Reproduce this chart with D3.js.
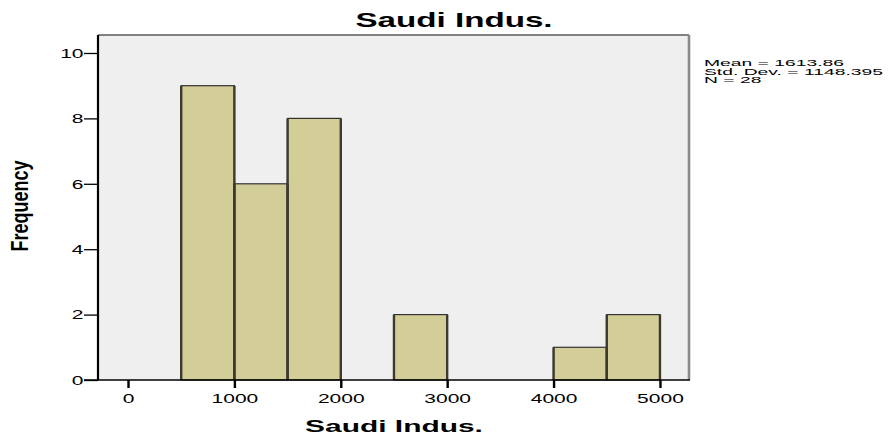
<!DOCTYPE html>
<html>
<head>
<meta charset="utf-8">
<script src="https://cdn.jsdelivr.net/npm/d3@7/dist/d3.min.js"></script>
<style>
  html, body { margin: 0; padding: 0; background: #ffffff; }
  svg { display: block; }
  text { font-family: "Liberation Sans", Arial, sans-serif; fill: #000; }
</style>
</head>
<body>
<svg id="chart" width="896" height="437"></svg>
<script>
// ---- data ----
const chartTitle = "Saudi Indus.";
const xAxisTitle = "Saudi Indus.";
const yAxisTitle = "Frequency";
const binLower = [500, 1000, 1500, 2500, 4000, 4500];
const binUpper = [1000, 1500, 2000, 3000, 4500, 5000];
const frequency = [9, 6, 8, 2, 1, 2];
const xTickValues = [0, 1000, 2000, 3000, 4000, 5000];
const yTickValues = [0, 2, 4, 6, 8, 10];
const statLines = ["Mean = 1613.86", "Std. Dev. = 1148.395", "N = 28"];

// ---- layout ----
const plot = { left: 98, top: 35, right: 689, bottom: 380 };
const svg = d3.select("#chart");

const x = d3.scaleLinear().domain([-282, 5273]).range([plot.left, plot.right]);
const y = d3.scaleLinear().domain([0, 10.55]).range([plot.bottom, plot.top]);

// plot background
svg.append("rect")
  .attr("x", plot.left).attr("y", plot.top)
  .attr("width", plot.right - plot.left).attr("height", plot.bottom - plot.top)
  .attr("fill", "#efefef");

// top & right border
svg.append("line").attr("x1", plot.left).attr("x2", plot.right)
  .attr("y1", plot.top).attr("y2", plot.top)
  .attr("stroke", "#5a5a5a").attr("stroke-width", 1.3);
svg.append("line").attr("x1", plot.right).attr("x2", plot.right)
  .attr("y1", plot.top).attr("y2", plot.bottom)
  .attr("stroke", "#8a8a8a").attr("stroke-width", 2.6);

// bars
const bins = frequency.map((f, i) => ({ lo: binLower[i], hi: binUpper[i], f }));
const gBars = svg.append("g");
gBars.selectAll("rect").data(bins).join("rect")
  .attr("x", d => x(d.lo)).attr("width", d => x(d.hi) - x(d.lo))
  .attr("y", d => y(d.f)).attr("height", d => y(0) - y(d.f))
  .attr("fill", "#d3ce97")
  .attr("stroke", "#333").attr("stroke-width", 1.2);
// thicker vertical edges (stretched look)
gBars.selectAll("line.l").data(bins).join("line").attr("class", "l")
  .attr("x1", d => x(d.lo)).attr("x2", d => x(d.lo))
  .attr("y1", d => y(d.f)).attr("y2", y(0))
  .attr("stroke", "#3a3a30").attr("stroke-width", 2.4);
gBars.selectAll("line.r").data(bins).join("line").attr("class", "r")
  .attr("x1", d => x(d.hi)).attr("x2", d => x(d.hi))
  .attr("y1", d => y(d.f)).attr("y2", y(0))
  .attr("stroke", "#3a3a30").attr("stroke-width", 2.4);

// y axis
const yAxisG = svg.append("g").attr("transform", `translate(${plot.left},0)`)
  .call(d3.axisLeft(y).tickValues(yTickValues).tickSize(14).tickSizeOuter(0).tickFormat(d3.format("d")));
yAxisG.select(".domain").attr("stroke", "#000").attr("stroke-width", 2.2)
  .attr("d", `M0,${plot.top}V${plot.bottom}`);
yAxisG.selectAll(".tick line").attr("stroke", "#000").attr("stroke-width", 1.3);
const sxTick = 1.75;
yAxisG.selectAll(".tick text")
  .attr("font-size", 12).attr("dy", null)
  .attr("x", null)
  .attr("transform", `translate(-14.5,4.3) scale(${sxTick},1)`)
  .attr("text-anchor", "end")
  .attr("fill", "#000");

// x axis
const xAxisG = svg.append("g").attr("transform", `translate(0,${plot.bottom})`)
  .call(d3.axisBottom(x).tickValues(xTickValues).tickSize(8).tickSizeOuter(0).tickFormat(d3.format("d")));
xAxisG.select(".domain").attr("stroke", "#000").attr("stroke-width", 1.4)
  .attr("d", `M${plot.left - 14},0H${plot.right + 1}`);
xAxisG.selectAll(".tick line").attr("stroke", "#000").attr("stroke-width", 2.4);
xAxisG.selectAll(".tick text")
  .attr("font-size", 12).attr("dy", null).attr("y", null)
  .attr("transform", `translate(0,23) scale(${sxTick},1)`)
  .attr("text-anchor", "middle")
  .attr("fill", "#000");

// title
svg.append("text")
  .attr("transform", "translate(454,27) scale(1.58,1)")
  .attr("text-anchor", "middle")
  .attr("font-size", 21).attr("font-weight", "bold")
  .text(chartTitle);

// x axis title
svg.append("text")
  .attr("transform", "translate(394,432) scale(1.76,1)")
  .attr("text-anchor", "middle")
  .attr("font-size", 17).attr("font-weight", "bold")
  .text(xAxisTitle);

// y axis title
svg.append("text")
  .attr("transform", "translate(28,206) rotate(-90) scale(1,1.35)")
  .attr("text-anchor", "middle")
  .attr("font-size", 18).attr("font-weight", "bold")
  .text(yAxisTitle);

// stats text
const statBaselines = [66, 74.5, 83];
svg.append("g").selectAll("text").data(statLines).join("text")
  .attr("transform", (d, i) => `translate(704,${statBaselines[i]}) scale(2.3,1)`)
  .attr("font-size", 8.4)
  .text(d => d);
</script>
</body>
</html>
